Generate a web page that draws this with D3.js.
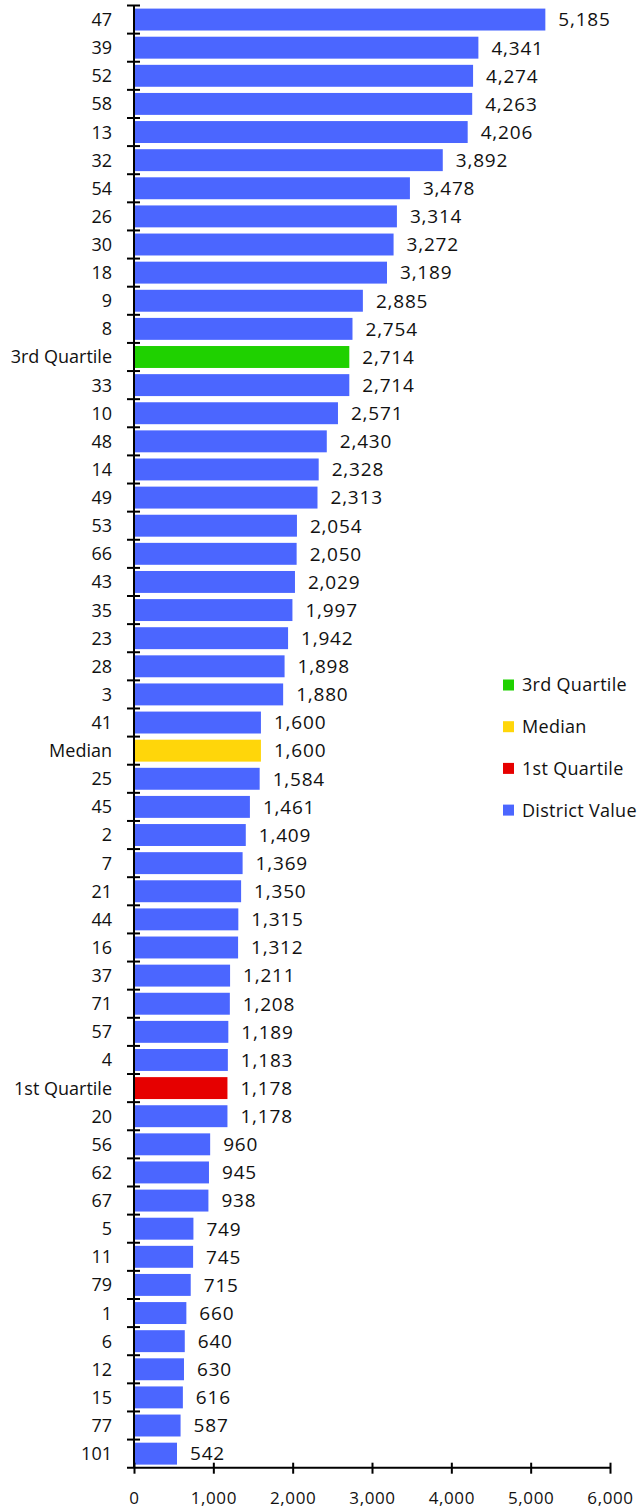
<!DOCTYPE html>
<html>
<head>
<meta charset="utf-8">
<script src="https://cdn.jsdelivr.net/npm/d3@7"></script>
<style>
  body { margin: 0; background: #fff; }
  svg text { font-family: "Open Sans", sans-serif; fill: #111; }
</style>
</head>
<body>
<div id="chart"></div>
<script>
  var categories = ['47', '39', '52', '58', '13', '32', '54', '26', '30', '18', '9', '8', '3rd Quartile',
    '33', '10', '48', '14', '49', '53', '66', '43', '35', '23', '28', '3', '41', 'Median', '25', '45',
    '2', '7', '21', '44', '16', '37', '71', '57', '4', '1st Quartile', '20', '56', '62', '67', '5',
    '11', '79', '1', '6', '12', '15', '77', '101'];
  var values = [5185, 4341, 4274, 4263, 4206, 3892, 3478, 3314, 3272, 3189, 2885, 2754, 2714,
    2714, 2571, 2430, 2328, 2313, 2054, 2050, 2029, 1997, 1942, 1898, 1880, 1600, 1600, 1584, 1461,
    1409, 1369, 1350, 1315, 1312, 1211, 1208, 1189, 1183, 1178, 1178, 960, 945, 938, 749,
    745, 715, 660, 640, 630, 616, 587, 542];
  var xTicks = [0, 1000, 2000, 3000, 4000, 5000, 6000];
  var legendItems = ['3rd Quartile', 'Median', '1st Quartile', 'District Value'];

  var colors = {
    '3rd Quartile': '#1fd100',
    'Median': '#ffd60a',
    '1st Quartile': '#e60000',
    'District Value': '#4b66ff'
  };

  function seriesOf(cat) {
    return colors[cat] ? cat : 'District Value';
  }

  var width = 639, height = 1508,
      x0 = 134, x1 = 610, yTop = 5.5, yBottom = 1467.7;

  var svg = d3.select('#chart').append('svg')
    .attr('width', width)
    .attr('height', height);

  var x = d3.scaleLinear().domain([0, 6000]).range([x0, x1]);
  var y = d3.scaleBand().domain(categories).range([yTop, yBottom])
    .paddingInner(0.22).paddingOuter(0.11);

  var data = categories.map(function (c, i) { return { cat: c, value: values[i] }; });

  // bars
  svg.selectAll('rect.bar')
    .data(data)
    .enter().append('rect')
      .attr('class', 'bar')
      .attr('x', x(0))
      .attr('y', function (d) { return y(d.cat); })
      .attr('width', function (d) { return x(d.value) - x(0); })
      .attr('height', y.bandwidth())
      .style('fill', function (d) { return colors[seriesOf(d.cat)]; });

  // value labels
  svg.selectAll('text.val')
    .data(data)
    .enter().append('text')
      .attr('class', 'val')
      .attr('x', function (d) { return x(d.value) + 13; })
      .attr('y', function (d) { return y(d.cat) + y.bandwidth() / 2; })
      .attr('dy', '0.36em')
      .style('font-size', '19px')
      .style('letter-spacing', '0.8px')
      .text(function (d) { return d3.format(',')(d.value); });

  // Y axis: line, band-boundary ticks, category labels
  var step = y.step();
  svg.append('line')
    .attr('x1', x0).attr('x2', x0)
    .attr('y1', yTop).attr('y2', yBottom)
    .style('stroke', '#000').style('stroke-width', 2);

  svg.selectAll('line.ytick')
    .data(d3.range(categories.length))
    .enter().append('line')
      .attr('class', 'ytick')
      .attr('x1', x0 - 7).attr('x2', x0 + 6)
      .attr('y1', function (i) { return yTop + i * step; })
      .attr('y2', function (i) { return yTop + i * step; })
      .style('stroke', '#000').style('stroke-width', 2);

  svg.selectAll('text.cat')
    .data(categories)
    .enter().append('text')
      .attr('class', 'cat')
      .attr('x', x0 - 22)
      .attr('y', function (c) { return y(c) + y.bandwidth() / 2; })
      .attr('dy', '0.36em')
      .attr('text-anchor', 'end')
      .style('font-size', '18px')
      .text(function (c) { return c; });

  // X axis
  var xAxis = svg.append('g')
    .attr('transform', 'translate(0,' + yBottom + ')')
    .call(d3.axisBottom(x).tickValues(xTicks).tickSizeOuter(0).tickSizeInner(6)
      .tickPadding(18).tickFormat(d3.format(',')));

  xAxis.select('.domain').remove();
  xAxis.append('line')
    .attr('x1', x0 - 7).attr('x2', x1)
    .style('stroke', '#000').style('stroke-width', 2);
  xAxis.selectAll('.tick line')
    .attr('y1', -5).attr('y2', 6)
    .style('stroke', '#000').style('stroke-width', 2);
  xAxis.selectAll('.tick text')
    .style('font-size', '17px')
    .style('letter-spacing', '0.6px')
    .style('font-family', '"Open Sans", sans-serif')
    .style('fill', '#111');

  // legend
  var legend = svg.selectAll('g.legend')
    .data(legendItems)
    .enter().append('g')
      .attr('class', 'legend')
      .attr('transform', function (d, i) { return 'translate(503,' + (685 + i * 41.7) + ')'; });

  legend.append('rect')
    .attr('x', 0).attr('y', -5.5)
    .attr('width', 11).attr('height', 11)
    .style('fill', function (d) { return colors[d]; });

  legend.append('text')
    .attr('x', 19)
    .attr('dy', '0.36em')
    .style('font-size', '18px')
    .style('letter-spacing', '0.3px')
    .text(function (d) { return d; });
</script>
</body>
</html>
